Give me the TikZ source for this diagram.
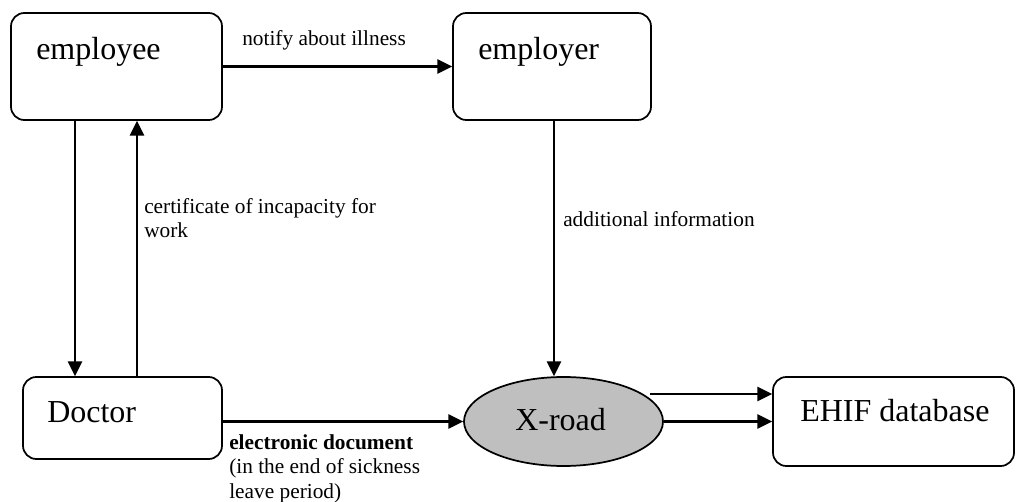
\documentclass[tikz,border=0pt]{standalone}
\usepackage{fontspec}
\setmainfont{Liberation Serif}
\usetikzlibrary{arrows.meta,shapes.geometric}

\begin{document}
\begin{tikzpicture}[x=0.75pt,y=0.75pt,yscale=-1,xscale=1,
	box/.style={draw,line width=1.3pt,rounded corners=10pt,inner sep=0pt},
	road/.style={draw,ellipse,line width=1.3pt,fill=black!25,inner sep=0pt},
	arr/.style={line width=1.7pt,-{Triangle[length=11pt,width=10.5pt]}},
	big/.style={inner sep=0pt,anchor=base west,font=\fontsize{24}{28}\selectfont},
	small/.style={inner sep=0pt,anchor=base west,align=left,font=\fontsize{16}{18.2}\selectfont}]
	\useasboundingbox (0,0) rectangle (1016,502);
	
	% boxes
	\node[box,minimum width=158.25pt,minimum height=80.25pt] (employee) at (116.5,66.5) {};
	\node[box,minimum width=148.5pt,minimum height=80.25pt] (employer) at (552,66.5) {};
	\node[box,minimum width=149.25pt,minimum height=61.5pt] (doctor) at (122.5,418) {};
	\node[road,minimum width=149.25pt,minimum height=66.75pt] (xroad) at (563.5,421.5) {};
	\node[box,minimum width=180.75pt,minimum height=66.75pt] (ehif) at (893.5,421.5) {};
	
	\node[big] (employeeT) at (36,60) {employee};
	\node[big] (employerT) at (478,60) {employer};
	\node[big] (doctorT) at (47,422.5) {Doctor};
	\node[big] (xroadT) at (515,430.5) {X-road};
	\node[big] (ehifT) at (800,421.5) {EHIF database};
	
	% connectors
	\coordinate (dn) at (75,0);
	\coordinate (up) at (137,0);
	\coordinate (xr) at (554,0);
	\coordinate (hi) at (650,394);
	\draw[arr] (employee.east) -- (employer.west);
	\draw[arr] (employee.south -| dn) -- (doctor.north -| dn);
	\draw[arr] (doctor.north -| up) -- (employee.south -| up);
	\draw[arr] (employer.south -| xr) -- (xroad.north -| xr);
	\draw[arr] (doctor.east |- xroad.west) -- (xroad.west);
	\draw[arr] (hi) -- (hi -| ehif.west);
	\draw[arr] (xroad.east) -- (xroad.east -| ehif.west);
	
	% labels (base = last line)
	\node[small] (notifyL) at (242,46) {notify about illness};
	\node[small] (certL) at (144,237.3) {certificate of incapacity for\\work};
	\node[small] (addL) at (563,226.7) {additional information};
	\node[small] (docL) at (229,498) {\textbf{electronic document}\\(in the end of sickness\\leave period)};
\end{tikzpicture}
\end{document}
